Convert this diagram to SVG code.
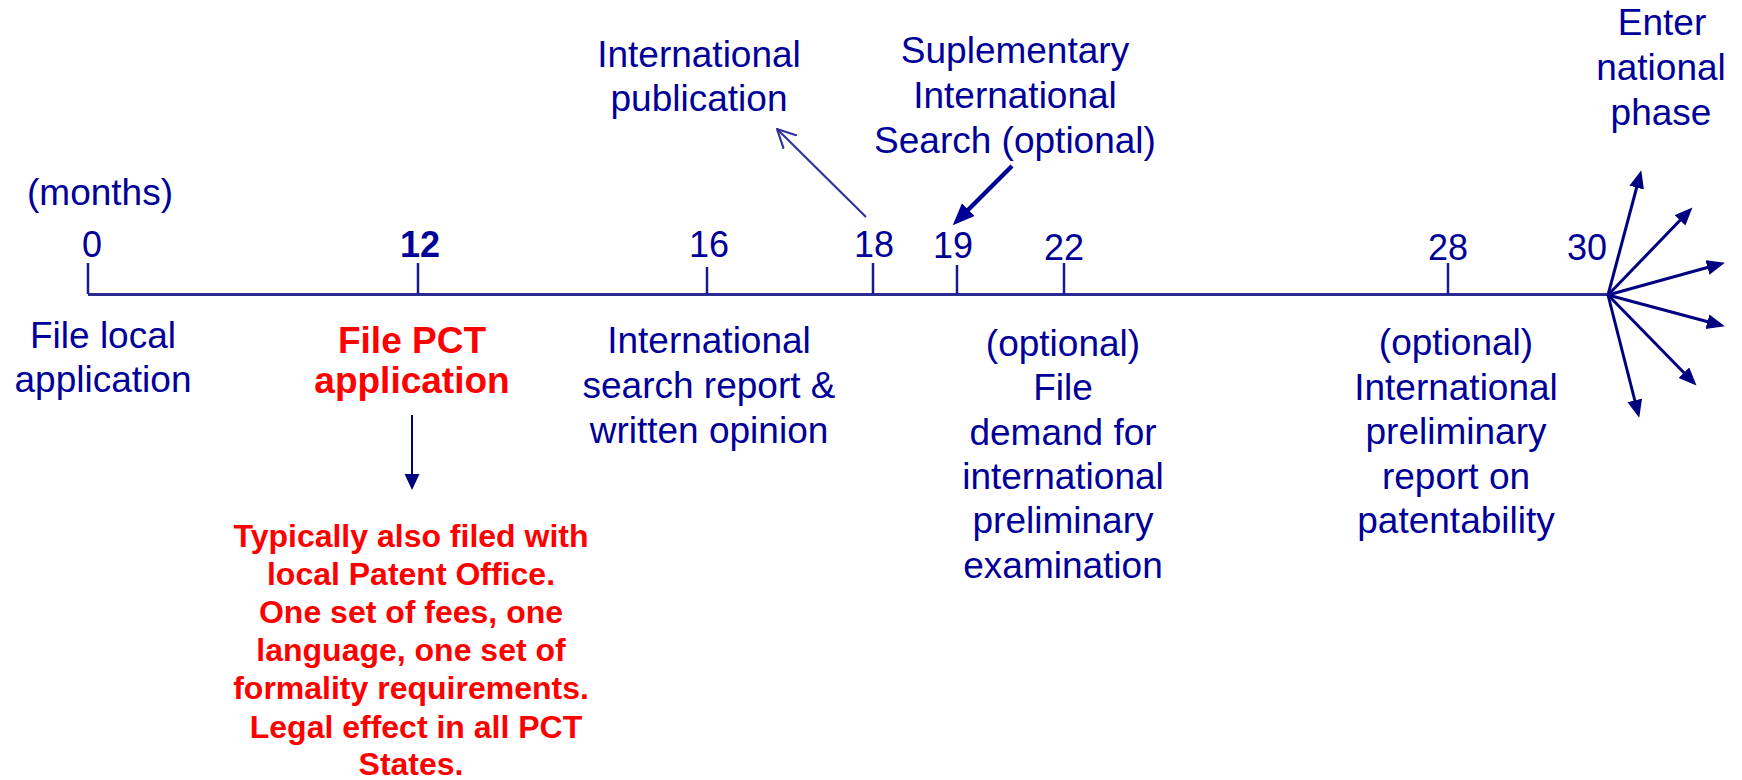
<svg xmlns="http://www.w3.org/2000/svg" width="1742" height="780" viewBox="0 0 1742 780">
  <style>
    text { font-family: "Liberation Sans", Arial, sans-serif; text-anchor: middle; }
    .lbl { font-size: 37px; fill: #000099; }
    .num { font-size: 36px; fill: #000099; }
    .bold { font-weight: bold; }
    .red { fill: #FF0000; font-weight: bold; }
    .title { font-size: 37px; }
    .note { font-size: 32px; }
    .axis { stroke: #2B2B90; stroke-width: 3; fill: none; }
    .tick { stroke: #1A1A8C; stroke-width: 2.5; fill: none; }
    .fan { stroke: #000080; stroke-width: 3; fill: none; }
  </style>
  <defs>
    <marker id="headFan" markerUnits="userSpaceOnUse" markerWidth="20" markerHeight="16" refX="13" refY="7.5" orient="auto">
      <path d="M0,0 L18,7.5 L0,15 z" fill="#000080"/>
    </marker>
    <marker id="headThick" markerUnits="userSpaceOnUse" markerWidth="24" markerHeight="20" refX="16" refY="9" orient="auto">
      <path d="M0,0 L22,9 L0,18 z" fill="#000099"/>
    </marker>
    <marker id="headDown" markerUnits="userSpaceOnUse" markerWidth="18" markerHeight="16" refX="12" refY="7.5" orient="auto">
      <path d="M0,0 L16,7.5 L0,15 z" fill="#000080"/>
    </marker>
    <marker id="headOpen" markerUnits="userSpaceOnUse" markerWidth="24" markerHeight="24" refX="19" refY="10" orient="auto">
      <path d="M1,1 L19,10 L1,19" fill="none" stroke="#333399" stroke-width="2.2" stroke-linecap="round" stroke-linejoin="round"/>
    </marker>
  </defs>

  <!-- timeline axis and month ticks -->
  <g id="timeline">
    <line class="axis" x1="88" y1="294.5" x2="1608" y2="294.5"/>
    <line class="tick" x1="88" y1="263" x2="88" y2="294"/>
    <line class="tick" x1="418" y1="263" x2="418" y2="294"/>
    <line class="tick" x1="707" y1="267" x2="707" y2="294"/>
    <line class="tick" x1="873" y1="263" x2="873" y2="294"/>
    <line class="tick" x1="957" y1="265" x2="957" y2="294"/>
    <line class="tick" x1="1064" y1="263" x2="1064" y2="294"/>
    <line class="tick" x1="1448" y1="263" x2="1448" y2="294"/>
    <text class="lbl" x="100" y="205">(months)</text>
    <text class="num" x="92" y="257">0</text>
    <text class="num bold" x="420" y="257">12</text>
    <text class="num" x="709" y="257">16</text>
    <text class="num" x="874" y="257">18</text>
    <text class="num" x="953" y="258">19</text>
    <text class="num" x="1064" y="260">22</text>
    <text class="num" x="1448" y="260">28</text>
    <text class="num" x="1587" y="260">30</text>
  </g>

  <g id="m0-local">
    <text class="lbl" x="103" y="348">File local</text>
    <text class="lbl" x="103" y="392">application</text>
  </g>

  <g id="m12-pct">
    <text class="red title" x="412" y="353">File PCT</text>
    <text class="red title" x="412" y="393">application</text>
  </g>

  <g id="m12-note">
    <text class="red note" x="411" y="547">Typically also filed with</text>
    <text class="red note" x="411" y="585">local Patent Office.</text>
    <text class="red note" x="411" y="623">One set of fees, one</text>
    <text class="red note" x="411" y="661">language, one set of</text>
    <text class="red note" x="411" y="699">formality requirements.</text>
    <text class="red note" x="416" y="738">Legal effect in all PCT</text>
    <text class="red note" x="411" y="775">States.</text>
  </g>

  <g id="m16-search">
    <text class="lbl" x="709" y="353">International</text>
    <text class="lbl" x="709" y="398">search report &amp;</text>
    <text class="lbl" x="709" y="443">written opinion</text>
  </g>

  <g id="m18-publication">
    <text class="lbl" x="699" y="67">International</text>
    <text class="lbl" x="699" y="111">publication</text>
  </g>

  <g id="m19-supplementary">
    <text class="lbl" x="1015" y="63">Suplementary</text>
    <text class="lbl" x="1015" y="108">International</text>
    <text class="lbl" x="1015" y="153">Search (optional)</text>
  </g>

  <g id="m22-demand">
    <text class="lbl" x="1063" y="356">(optional)</text>
    <text class="lbl" x="1063" y="400">File</text>
    <text class="lbl" x="1063" y="445">demand for</text>
    <text class="lbl" x="1063" y="489">international</text>
    <text class="lbl" x="1063" y="533">preliminary</text>
    <text class="lbl" x="1063" y="578">examination</text>
  </g>

  <g id="m28-report">
    <text class="lbl" x="1456" y="355">(optional)</text>
    <text class="lbl" x="1456" y="400">International</text>
    <text class="lbl" x="1456" y="444">preliminary</text>
    <text class="lbl" x="1456" y="489">report on</text>
    <text class="lbl" x="1456" y="533">patentability</text>
  </g>

  <g id="m30-national">
    <text class="lbl" x="1662" y="35">Enter</text>
    <text class="lbl" x="1661" y="80">national</text>
    <text class="lbl" x="1661" y="125">phase</text>
  </g>

  <!-- connectors -->
  <g id="connectors">
    <line x1="412" y1="415" x2="412" y2="486" stroke="#000080" stroke-width="2" marker-end="url(#headDown)"/>
    <line x1="866" y1="217" x2="777" y2="129" stroke="#333399" stroke-width="2.2" marker-end="url(#headOpen)"/>
    <line x1="1012" y1="166" x2="957" y2="221" stroke="#000099" stroke-width="4.5" marker-end="url(#headThick)"/>
    <line class="fan" x1="1608" y1="295" x2="1640" y2="175" marker-end="url(#headFan)"/>
    <line class="fan" x1="1608" y1="295" x2="1689" y2="211" marker-end="url(#headFan)"/>
    <line class="fan" x1="1608" y1="295" x2="1720" y2="264" marker-end="url(#headFan)"/>
    <line class="fan" x1="1608" y1="295" x2="1720" y2="325" marker-end="url(#headFan)"/>
    <line class="fan" x1="1608" y1="295" x2="1693" y2="382" marker-end="url(#headFan)"/>
    <line class="fan" x1="1608" y1="295" x2="1638" y2="413" marker-end="url(#headFan)"/>
  </g>
</svg>
